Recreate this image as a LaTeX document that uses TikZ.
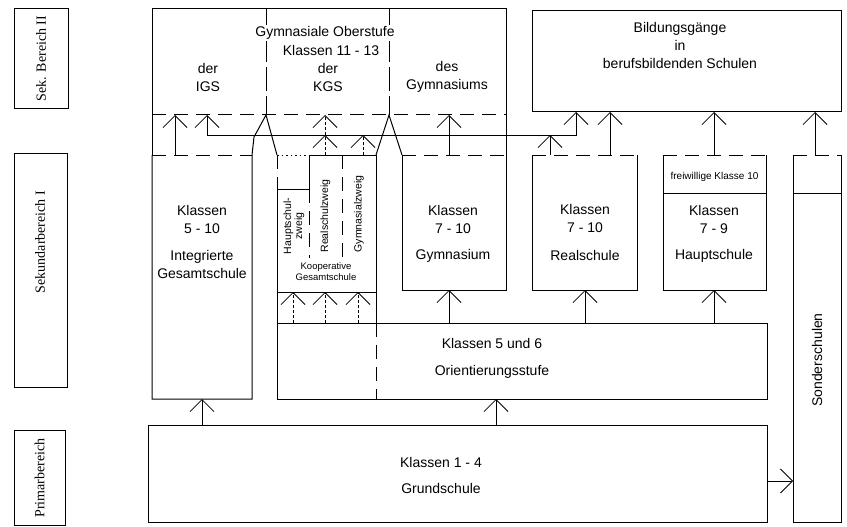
\documentclass[tikz,border=0pt]{standalone}
\usepackage{fontspec}
\setmainfont{Liberation Sans}
\newfontfamily\lblfont{Liberation Serif}
\usetikzlibrary{arrows.meta, positioning}

\begin{document}
\begin{tikzpicture}[x=1pt, y=-1pt,
  area/.style={rectangle, inner sep=0pt, outer sep=0pt},
  box/.style={area, draw, line width=1pt},
  rim/.style={line width=1pt},
  brk/.style={rim, dash pattern=on 14pt off 8pt},
  splitline/.style={rim, dash pattern=on 24pt off 5pt},
  dotline/.style={rim, dash pattern=on 1.5pt off 3pt},
  txt/.style={font=\fontsize{14}{18}\selectfont, align=center, inner sep=0pt},
  minor/.style={font=\fontsize{10.5}{11}\selectfont, align=center, inner sep=0pt},
  side/.style={draw, line width=1pt, rotate=90, inner sep=0pt, outer sep=0pt},
  sidetext/.style={rotate=90, inner sep=0pt, font=\lblfont\fontsize{14}{16}\selectfont},
  arr/.style={-{Straight Barb[length=12pt, width=24pt]}, line width=0.8pt},
  darr/.style={arr, dash pattern=on 3pt off 2pt}
]
  \useasboundingbox (0,0) rectangle (847,527);

  % Bereiche links
  \node[side, minimum width=100, minimum height=54] (sekzwei) at (41.5,58.5) {};
  \node[side, minimum width=234, minimum height=53] (sekeins) at (40.5,270) {};
  \node[side, minimum width=95,  minimum height=51] (primar)  at (39.5,477.5) {};
  \node[sidetext] (sekzweitext) at (41,58.5) {Sek. Bereich II};
  \node[sidetext] (sekeinstext) at (40,242) {Sekundarbereich I};
  \node[sidetext] (primartext)  at (39.5,478) {Primarbereich};

  % Schulformen
  \node[area, minimum width=354, minimum height=106] (ober)   at (329,62) {};
  \node[box,  minimum width=309, minimum height=101] (bild)   at (686.5,61.5) {};
  \node[area, minimum width=100, minimum height=244] (igs)    at (202,277) {};
  \node[area, minimum width=99,  minimum height=137] (kgs)    at (326.5,223.5) {};
  \node[area, minimum width=104, minimum height=135] (gym)    at (454,222.5) {};
  \node[area, minimum width=105, minimum height=135] (real)   at (584.5,222.5) {};
  \node[area, minimum width=103, minimum height=135] (haupt)  at (714.5,222.5) {};
  \node[area, minimum width=48,  minimum height=367] (sonder) at (817,338.5) {};
  \node[box,  minimum width=490, minimum height=76]  (orient) at (522,361) {};
  \node[box,  minimum width=619, minimum height=97]  (grund)  at (457.5,473.5) {};

  % Oberstufe
  \draw[rim] (ober.south west) -- (ober.north west) -- (ober.north east) -- (ober.south east);
  \draw[brk] (ober.south west) -- (ober.south east);
  \draw[splitline] (266,9) -- (266,115);
  \draw[splitline] (389,9) -- (389,115);
  \draw[rim] (ober.south west) -- (igs.north west);
  \draw[rim] (ober.south east) -- (gym.north east);

  % IGS
  \draw[rim] (igs.north west) -- (igs.south west) -- (igs.south east) -- (igs.north east)
             -- (254,137) -- (266,115) -- (kgs.north west);
  \draw[brk] (igs.north west) -- (igs.north east);

  % KGS
  \draw[dotline] (kgs.north west) -- (309,155);
  \draw[brk] (kgs.north west) -- (277,189);
  \draw[rim] (309,155) -- (kgs.north east) -- (kgs.south east) -- (kgs.south west);
  \draw[rim] (277,189) -- (kgs.west |- orient.north);
  \draw[rim] (277,189) -- (309,189) -- (309,155);
  \draw[brk] (309,189) -- (309,258);
  \draw[brk] (342,155) -- (342,258);
  \draw[rim] (kgs.south east) -- (kgs.east |- orient.north);
  \draw[brk] (kgs.east |- orient.north) -- (kgs.east |- orient.south);
  \draw[rim] (kgs.north east) -- (389,115) -- (gym.north west);

  % Gymnasium, Realschule, Hauptschule, Sonderschulen
  \foreach \s in {gym, real, haupt, sonder} {
    \draw[rim] (\s.north west) -- (\s.south west) -- (\s.south east) -- (\s.north east);
    \draw[brk] (\s.north west) -- (\s.north east);
  }
  \draw[rim] (haupt.west |- 0,193) -- (haupt.east |- 0,193);
  \draw[rim] (sonder.west |- 0,193) -- (sonder.east |- 0,193);

  % Texte
  \node[txt, fill=white, inner sep=1pt] (obtitel) at (325,33) {Gymnasiale Oberstufe};
  \node[txt] (obklassen) at (331,50) {Klassen 11 - 13};
  \node[txt] (obigs) at (208,77) {der\\IGS};
  \node[txt] (obkgs) at (328,77) {der\\KGS};
  \node[txt] (obgym) at (447,77) {des\\Gymnasiums};
  \node[txt] (bildtext) at (680,45.5) {Bildungsgänge\\in\\berufsbildenden Schulen};
  \node[txt] (igsklassen) at (202,219) {Klassen\\5 - 10};
  \node[txt] (igsname) at (202,264) {Integrierte\\Gesamtschule};
  \node[minor, rotate=90] (hzweig) at (294,226) {Hauptschul-\\zweig};
  \node[minor, rotate=90] (rzweig) at (325.5,216) {Realschulzweig};
  \node[minor, rotate=90] (gzweig) at (359,214) {Gymnasialzweig};
  \node[minor, font=\fontsize{9.5}{11}\selectfont] (kgsname) at (326,272) {Kooperative\\Gesamtschule};
  \node[txt] (gymklassen) at (453,219.5) {Klassen\\7 - 10};
  \node[txt] (gymname) at (453,256) {Gymnasium};
  \node[txt] (realklassen) at (585,218.5) {Klassen\\7 - 10};
  \node[txt] (realname) at (585,255) {Realschule};
  \node[minor, font=\fontsize{10}{12}\selectfont] (freiw) at (714.5,177) {freiwillige Klasse 10};
  \node[txt] (hauptklassen) at (714,219.5) {Klassen\\7 - 9};
  \node[txt] (hauptname) at (714,256) {Hauptschule};
  \node[txt, rotate=90] (sondername) at (817,360) {Sonderschulen};
  \node[txt] (orklassen) at (492,343) {Klassen 5 und 6};
  \node[txt] (orname) at (492,372) {Orientierungsstufe};
  \node[txt] (grklassen) at (441,462) {Klassen 1 - 4};
  \node[txt] (grname) at (441,488) {Grundschule};

  % Uebergaenge Sek I -> Sek II
  \coordinate (join)  at (207,135);
  \coordinate (joinr) at (576,135);
  \draw[arr] (igs.north -| 175,0) -- (ober.south -| 175,0);
  \draw[arr] (join) -- (ober.south -| join);
  \draw[arr] (join) -- (joinr) -- (bild.south -| joinr);
  \draw[arr] (real.north -| 550,0) -- (join -| 550,0);
  \draw[darr] (kgs.north -| 325,0) -- (join -| 325,0);
  \draw[darr] (join -| 325,0) -- (ober.south -| 325,0);
  \draw[darr] (kgs.north -| 363,0) -- (join -| 363,0);
  \draw[arr] (gym.north -| 449,0) -- (ober.south -| 449,0);
  \draw[arr] (real.north -| 610,0) -- (bild.south -| 610,0);
  \draw[arr] (haupt.north -| 714,0) -- (bild.south -| 714,0);
  \draw[arr] (sonder.north -| 815,0) -- (bild.south -| 815,0);

  % Uebergaenge Orientierungsstufe und Grundschule
  \foreach \x in {293, 325, 358}
    \draw[darr] (orient.north -| \x,0) -- (kgs.south -| \x,0);
  \draw[arr] (orient.north -| 449,0) -- (gym.south -| 449,0);
  \draw[arr] (orient.north -| 585,0) -- (real.south -| 585,0);
  \draw[arr] (orient.north -| 714,0) -- (haupt.south -| 714,0);
  \draw[arr] (grund.north -| igs.south) -- (igs.south);
  \draw[arr] (grund.north -| 496,0) -- (orient.south -| 496,0);
  \draw[arr] (grund.east |- 0,481) -- (sonder.west |- 0,481);
\end{tikzpicture}
\end{document}
